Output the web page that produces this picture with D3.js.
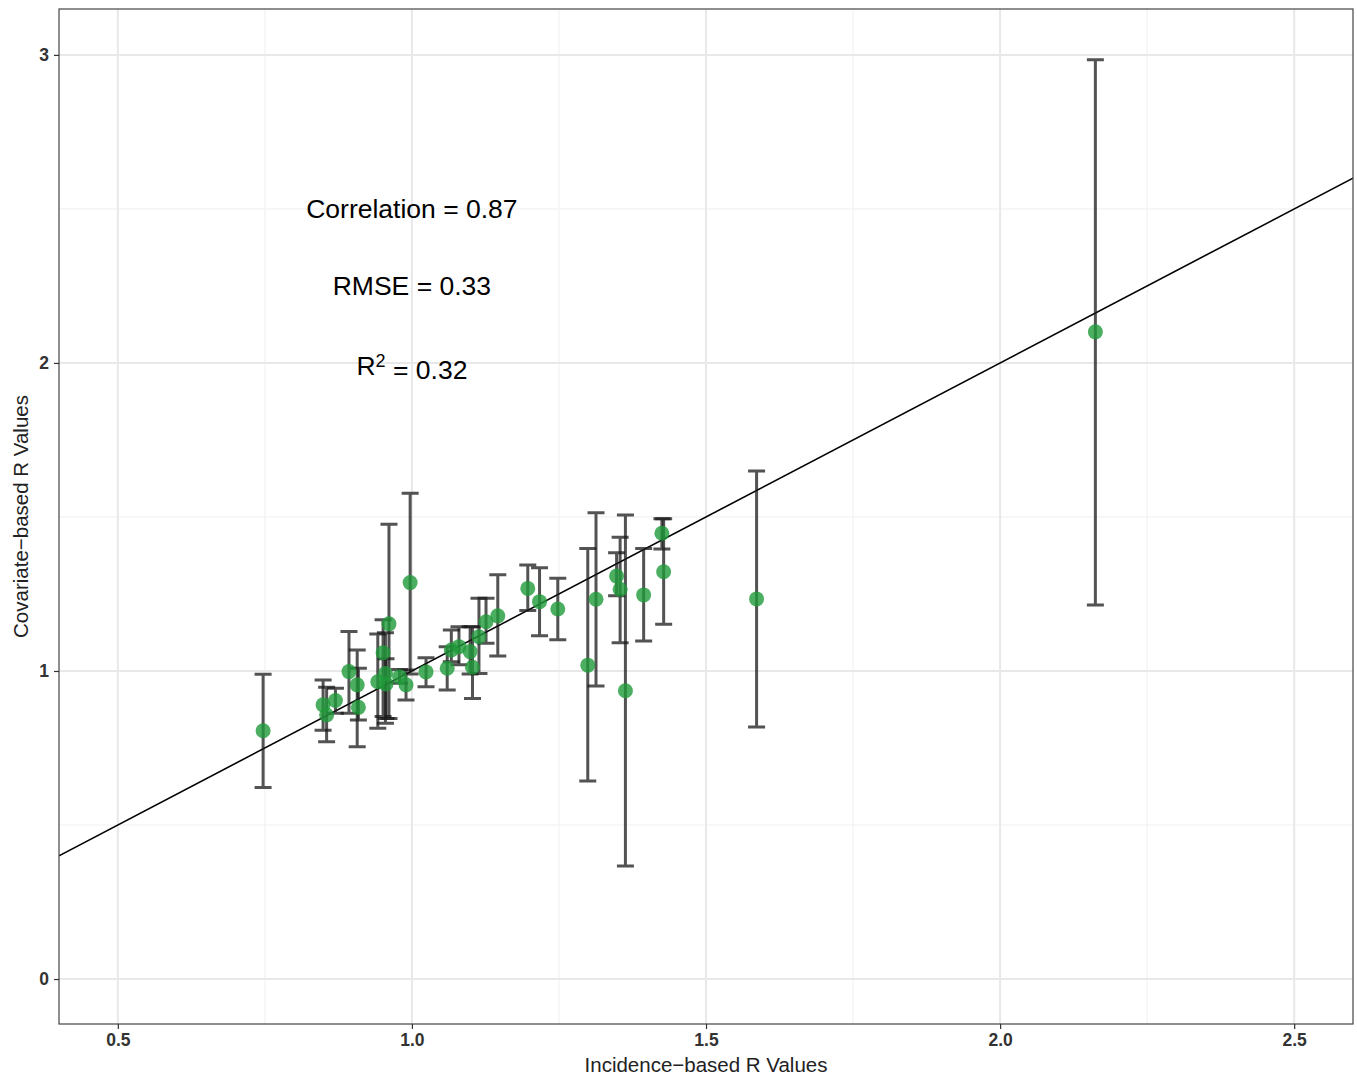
<!DOCTYPE html>
<html>
<head>
<meta charset="utf-8">
<script src="https://cdn.jsdelivr.net/npm/d3@7"></script>
<style>
  body { margin: 0; background: #fff; }
  svg { display: block; font-family: "Liberation Sans", Arial, sans-serif; }
</style>
</head>
<body>
<div id="chart"></div>
<script>
// incidence-based R (x), covariate-based R (y) and its interval
const incidenceR = [0.747, 0.849, 0.855, 0.870, 0.893, 0.907, 0.909, 0.942, 0.951, 0.955,
    0.956, 0.961, 0.979, 0.990, 0.997, 1.024, 1.060, 1.067, 1.080, 1.099,
    1.103, 1.114, 1.126, 1.146, 1.197, 1.217, 1.248, 1.299, 1.313, 1.348,
    1.354, 1.363, 1.394, 1.425, 1.428, 1.586, 2.162];
const covariateR = [0.806, 0.890, 0.857, 0.904, 0.998, 0.955, 0.882, 0.965, 1.059, 0.992,
    0.958, 1.153, 0.981, 0.955, 1.287, 0.997, 1.009, 1.068, 1.079, 1.063,
    1.012, 1.111, 1.160, 1.179, 1.268, 1.225, 1.201, 1.019, 1.233, 1.308,
    1.265, 0.936, 1.247, 1.447, 1.322, 1.234, 2.101];
const lowerR = [0.622, 0.808, 0.770, 0.863, 0.863, 0.754, 0.841, 0.814, 0.852, 0.830,
    0.846, 0.846, 0.960, 0.906, 0.990, 0.949, 0.938, 1.030, 1.020, 0.990,
    0.911, 0.992, 1.090, 1.049, 1.196, 1.114, 1.101, 0.643, 0.951, 1.244,
    1.092, 0.367, 1.097, 1.396, 1.152, 0.818, 1.214];
const upperR = [0.989, 0.971, 0.947, 0.944, 1.128, 1.068, 1.009, 1.120, 1.166, 1.124,
    1.040, 1.476, 1.005, 1.003, 1.577, 1.043, 1.079, 1.133, 1.144, 1.144,
    1.144, 1.236, 1.236, 1.312, 1.344, 1.335, 1.301, 1.398, 1.514, 1.384,
    1.434, 1.506, 1.398, 1.494, 1.494, 1.649, 2.984];

const xTicks = [0.5, 1.0, 1.5, 2.0, 2.5];
const xMinor = [0.75, 1.25, 1.75, 2.25];
const yTicks = [0, 1, 2, 3];
const yMinor = [0.5, 1.5, 2.5];

const statLabels = ['Correlation = 0.87', 'RMSE = 0.33'];
const statY = [2.5, 2.25];

const width = 1357, height = 1076;
const margin = { top: 9, right: 4, bottom: 52, left: 59 };

const points = incidenceR.map((x, i) => ({
    x: x, y: covariateR[i], lo: lowerR[i], hi: upperR[i]
}));

const x = d3.scaleLinear().domain([0.4, 2.6]).range([margin.left, width - margin.right]);
const y = d3.scaleLinear().domain([-0.146, 3.149]).range([height - margin.bottom, margin.top]);

const svg = d3.select('#chart').append('svg')
    .attr('width', width)
    .attr('height', height);

// grid lines
const grid = svg.append('g');
grid.selectAll('.xminor').data(xMinor).join('line')
    .attr('x1', d => x(d)).attr('x2', d => x(d))
    .attr('y1', margin.top).attr('y2', height - margin.bottom)
    .attr('stroke', '#f2f2f2').attr('stroke-width', 1.2);
grid.selectAll('.yminor').data(yMinor).join('line')
    .attr('y1', d => y(d)).attr('y2', d => y(d))
    .attr('x1', margin.left).attr('x2', width - margin.right)
    .attr('stroke', '#f2f2f2').attr('stroke-width', 1.2);
grid.selectAll('.xmajor').data(xTicks).join('line')
    .attr('x1', d => x(d)).attr('x2', d => x(d))
    .attr('y1', margin.top).attr('y2', height - margin.bottom)
    .attr('stroke', '#e8e8e8').attr('stroke-width', 2);
grid.selectAll('.ymajor').data(yTicks).join('line')
    .attr('y1', d => y(d)).attr('y2', d => y(d))
    .attr('x1', margin.left).attr('x2', width - margin.right)
    .attr('stroke', '#e8e8e8').attr('stroke-width', 2);

// identity line y = x
svg.append('clipPath').attr('id', 'panel')
    .append('rect')
    .attr('x', margin.left).attr('y', margin.top)
    .attr('width', width - margin.left - margin.right)
    .attr('height', height - margin.top - margin.bottom);

svg.append('line')
    .attr('clip-path', 'url(#panel)')
    .attr('x1', x(0.4)).attr('y1', y(0.4))
    .attr('x2', x(2.6)).attr('y2', y(2.6))
    .attr('stroke', '#000').attr('stroke-width', 1.6);

// error bars
const capHalf = 8.5;
const bars = svg.append('g')
    .attr('stroke', '#1a1a1a')
    .attr('stroke-opacity', 0.75)
    .attr('stroke-width', 3);
bars.selectAll('.bar').data(points).join('path')
    .attr('fill', 'none')
    .attr('d', d => `M${x(d.x) - capHalf},${y(d.hi)}H${x(d.x) + capHalf}` +
        `M${x(d.x)},${y(d.hi)}V${y(d.lo)}` +
        `M${x(d.x) - capHalf},${y(d.lo)}H${x(d.x) + capHalf}`);

// points
svg.append('g').selectAll('circle').data(points).join('circle')
    .attr('cx', d => x(d.x))
    .attr('cy', d => y(d.y))
    .attr('r', 7.5)
    .attr('fill', '#1f9a3a')
    .attr('fill-opacity', 0.8);

// panel border
svg.append('rect')
    .attr('x', margin.left).attr('y', margin.top)
    .attr('width', width - margin.left - margin.right)
    .attr('height', height - margin.top - margin.bottom)
    .attr('fill', 'none')
    .attr('stroke', '#444')
    .attr('stroke-width', 1.2);

// axes
const xAxis = svg.append('g')
    .attr('transform', `translate(0,${height - margin.bottom})`)
    .call(d3.axisBottom(x).tickValues(xTicks).tickFormat(d3.format('.1f')).tickSizeOuter(0).tickSize(5).tickPadding(5));
const yAxis = svg.append('g')
    .attr('transform', `translate(${margin.left},0)`)
    .call(d3.axisLeft(y).tickValues(yTicks).tickFormat(d3.format('d')).tickSizeOuter(0).tickSize(5).tickPadding(5));
[xAxis, yAxis].forEach(a => {
    a.select('.domain').remove();
    a.selectAll('.tick line').attr('stroke', '#333').attr('stroke-width', 1.2);
    a.selectAll('.tick text')
        .attr('fill', '#333')
        .style('font-size', '17.5px')
        .style('font-weight', 'bold');
});

// axis titles
svg.append('text')
    .attr('x', x(1.5))
    .attr('y', 1072)
    .attr('text-anchor', 'middle')
    .style('font-size', '20.5px')
    .attr('fill', '#222')
    .text('Incidence\u2212based R Values');

svg.append('text')
    .attr('transform', `translate(28,${(margin.top + height - margin.bottom) / 2}) rotate(-90)`)
    .attr('text-anchor', 'middle')
    .style('font-size', '20.5px')
    .attr('fill', '#222')
    .text('Covariate\u2212based R Values');

// stats annotation
svg.append('g').selectAll('text').data(statLabels).join('text')
    .attr('x', x(1.0))
    .attr('y', (d, i) => y(statY[i]))
    .attr('dy', '0.35em')
    .attr('text-anchor', 'middle')
    .style('font-size', '26.5px')
    .attr('fill', '#000')
    .text(d => d);

const r2 = svg.append('text')
    .attr('x', x(1.0))
    .attr('y', y(1.99))
    .attr('dy', '0.35em')
    .attr('text-anchor', 'middle')
    .style('font-size', '26.5px')
    .attr('fill', '#000');
r2.append('tspan').text('R');
r2.append('tspan').attr('dy', '-0.45em').style('font-size', '18px').text('2');
r2.append('tspan').attr('dy', '0.45em').text(' = 0.32');
</script>
</body>
</html>
